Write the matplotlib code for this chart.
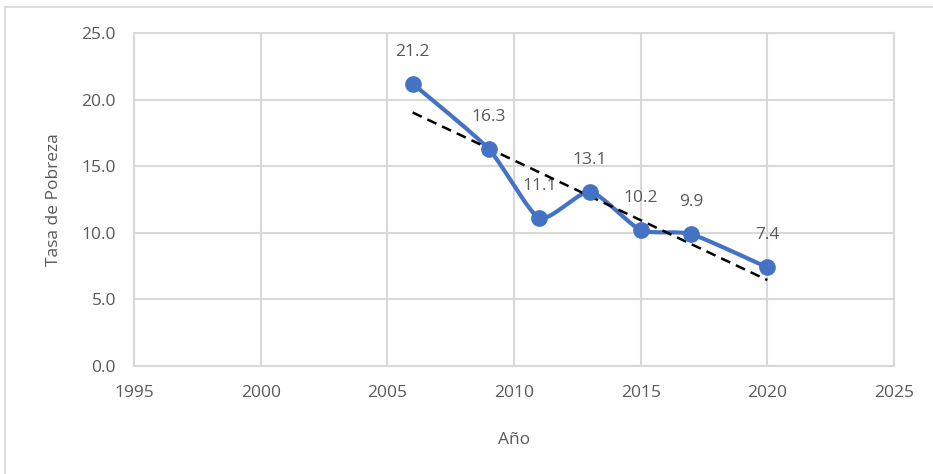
import numpy as np
import matplotlib
matplotlib.use("Agg")
import matplotlib.pyplot as plt
from matplotlib.lines import Line2D

plt.rcParams['font.family'] = ['Open Sans', 'DejaVu Sans']

# datos
anios = [2006, 2009, 2011, 2013, 2015, 2017, 2020]
tasa = [21.2, 16.3, 11.1, 13.1, 10.2, 9.9, 7.4]
etiquetas = ['21.2', '16.3', '11.1', '13.1', '10.2', '9.9', '7.4']
xticks = [1995, 2000, 2005, 2010, 2015, 2020, 2025]
yticks = [0, 5, 10, 15, 20, 25]

azul = '#4472C4'
gris_texto = '#595959'
gris_rejilla = '#d9d9d9'


# curva suavizada (Bezier con tension reducida)
def suavizar(x, y, n=30, k=10):
    p = np.column_stack([x, y]).astype(float)
    ext = np.vstack([p[0], p, p[-1]])
    xs, ys = [], []
    for i in range(len(p) - 1):
        p0, p1, p2, p3 = ext[i], ext[i + 1], ext[i + 2], ext[i + 3]
        c1 = p1 + (p2 - p0) / k
        c2 = p2 - (p3 - p1) / k
        t = np.linspace(0, 1, n)[:, None]
        b = (1 - t) ** 3 * p1 + 3 * (1 - t) ** 2 * t * c1 + 3 * (1 - t) * t ** 2 * c2 + t ** 3 * p2
        xs.extend(b[:, 0])
        ys.extend(b[:, 1])
    return np.array(xs), np.array(ys)


fig = plt.figure(figsize=(9.33, 4.74), dpi=100)
ax = fig.add_axes([0.1436, 0.2278, 0.8146, 0.7026])

# marco del area del grafico
fig.add_artist(Line2D([5 / 933, 1], [1 - 7 / 474, 1 - 7 / 474], color=gris_rejilla, lw=1.2))
fig.add_artist(Line2D([5 / 933, 5 / 933], [0, 1 - 7 / 474], color=gris_rejilla, lw=1.2))

xs, ys = suavizar(anios, tasa)
ax.plot(xs, ys, color=azul, lw=3, zorder=3, solid_capstyle='round')
ax.plot(anios, tasa, 'o', color=azul, ms=11, zorder=4)

# linea de tendencia lineal
m, b = np.polyfit(anios, tasa, 1)
xt = np.array([anios[0], anios[-1]])
ax.plot(xt, m * xt + b, '--', color='black', lw=1.8, dashes=(4, 2.5), zorder=3.5)

for xa, ya, et in zip(anios, tasa, etiquetas):
    ax.annotate(et, (xa, ya), xytext=(0, 32), textcoords='offset pixels',
                ha='center', va='center', fontsize=12.5, color=gris_texto)

ax.set_xlim(1995, 2025)
ax.set_ylim(0, 25)
ax.set_xticks(xticks)
ax.set_yticks(yticks)
ax.set_yticklabels([f'{v:.1f}' for v in yticks])
ax.grid(True, color=gris_rejilla, lw=1.5)
ax.set_axisbelow(True)
for s in ax.spines.values():
    s.set_color(gris_rejilla)
    s.set_linewidth(1.5)
ax.tick_params(length=0, labelsize=12.5, labelcolor=gris_texto, pad=14)
ax.tick_params(axis='y', pad=13)
ax.set_xlabel('Año', fontsize=12.5, color=gris_texto, labelpad=22)
ax.set_ylabel('Tasa de Pobreza', fontsize=12.5, color=gris_texto, labelpad=14)

fig.savefig('out.png', dpi=100)
